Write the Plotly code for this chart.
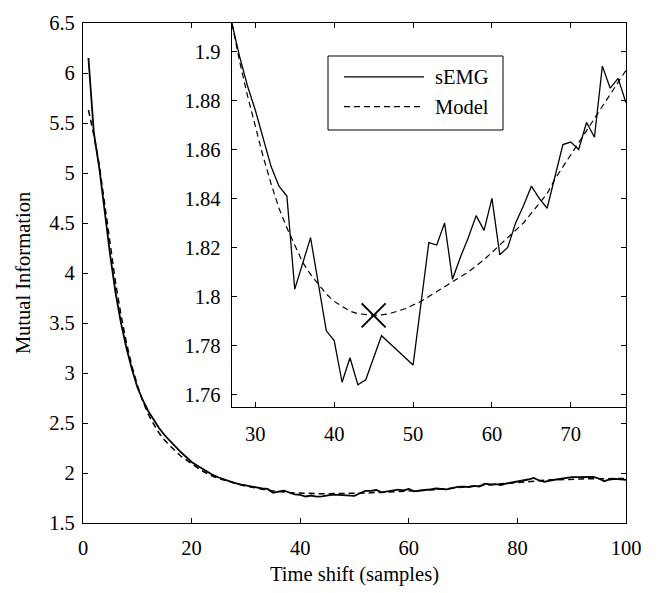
import plotly.graph_objects as go

# ---------------- data ----------------
time_shift = list(range(1, 101))

semg_mi = [
    6.15, 5.40, 5.05, 4.60, 4.18, 3.80, 3.50, 3.25, 3.04, 2.86,
    2.73, 2.62, 2.53, 2.45, 2.38, 2.32, 2.27, 2.21, 2.16, 2.11,
    2.075, 2.04, 2.005, 1.978, 1.955, 1.934, 1.912, 1.898, 1.886, 1.876,
    1.865, 1.853, 1.845, 1.841, 1.803, 1.814, 1.824, 1.805, 1.786, 1.782,
    1.765, 1.775, 1.764, 1.766, 1.775, 1.784, 1.781, 1.778, 1.775, 1.772,
    1.797, 1.822, 1.821, 1.830, 1.807, 1.816, 1.824, 1.833, 1.827, 1.840,
    1.817, 1.820, 1.830, 1.837, 1.845, 1.840, 1.836, 1.849, 1.862, 1.863,
    1.860, 1.871, 1.865, 1.894, 1.885, 1.889, 1.879, 1.895, 1.903, 1.910,
    1.925, 1.935, 1.950, 1.925, 1.912, 1.925, 1.935, 1.942, 1.955, 1.958,
    1.958, 1.960, 1.960, 1.962, 1.945, 1.918, 1.935, 1.942, 1.936, 1.932,
]

model_mi = [
    5.63, 5.38, 5.08, 4.68, 4.27, 3.90, 3.58, 3.30, 3.07, 2.88,
    2.72, 2.59, 2.49, 2.40, 2.33, 2.27, 2.22, 2.17, 2.13, 2.09,
    2.055, 2.02, 1.99, 1.965, 1.945, 1.928, 1.912, 1.896, 1.882, 1.869,
    1.857, 1.846, 1.836, 1.828, 1.821, 1.814, 1.809, 1.805, 1.801, 1.798,
    1.796, 1.794, 1.793, 1.7925, 1.7923, 1.7925, 1.793, 1.794, 1.795, 1.7965,
    1.798, 1.800, 1.802, 1.804, 1.806, 1.808, 1.810, 1.8125, 1.815, 1.818,
    1.821, 1.824, 1.827, 1.830, 1.834, 1.838, 1.842, 1.848, 1.853, 1.858,
    1.863, 1.868, 1.873, 1.878, 1.883, 1.888, 1.893, 1.898, 1.903, 1.908,
    1.913, 1.917, 1.921, 1.924, 1.927, 1.930, 1.933, 1.935, 1.937, 1.939,
    1.940, 1.941, 1.942, 1.943, 1.944, 1.944, 1.945, 1.945, 1.945, 1.945,
]

min_shift = [45]
min_mi = [1.7923]

series_names = ["sEMG", "Model"]

main_xticks = [0, 20, 40, 60, 80, 100]
main_xlabels = ["0", "20", "40", "60", "80", "100"]
main_yticks = [1.5, 2, 2.5, 3, 3.5, 4, 4.5, 5, 5.5, 6, 6.5]
main_ylabels = ["1.5", "2", "2.5", "3", "3.5", "4", "4.5", "5", "5.5", "6", "6.5"]
inset_xticks = [30, 40, 50, 60, 70]
inset_xlabels = ["30", "40", "50", "60", "70"]
inset_yticks = [1.76, 1.78, 1.80, 1.82, 1.84, 1.86, 1.88, 1.90]
inset_ylabels = ["1.76", "1.78", "1.8", "1.82", "1.84", "1.86", "1.88", "1.9"]

# ---------------- figure ----------------
FONT = "Liberation Serif"
FS = 20.5
DASH = "6px,4px"

fig = go.Figure()

# main plot
fig.add_trace(go.Scatter(x=time_shift, y=semg_mi, mode="lines", name=series_names[0],
                         line=dict(color="black", width=1.8),
                         xaxis="x", yaxis="y", showlegend=False))
fig.add_trace(go.Scatter(x=time_shift, y=model_mi, mode="lines", name=series_names[1],
                         line=dict(color="black", width=1.5, dash=DASH),
                         xaxis="x", yaxis="y", showlegend=False))

# inset
fig.add_trace(go.Scatter(x=time_shift, y=semg_mi, mode="lines", name=series_names[0],
                         line=dict(color="black", width=1.3),
                         xaxis="x2", yaxis="y2", showlegend=False))
fig.add_trace(go.Scatter(x=time_shift, y=model_mi, mode="lines", name=series_names[1],
                         line=dict(color="black", width=1.2, dash=DASH),
                         xaxis="x2", yaxis="y2", showlegend=False))
fig.add_trace(go.Scatter(x=min_shift, y=min_mi, mode="markers", name="minimum",
                         marker=dict(symbol="x-thin", size=24,
                                     line=dict(color="black", width=2)),
                         xaxis="x2", yaxis="y2", showlegend=False))

axis_common = dict(
    showgrid=False, zeroline=False, showline=True, linecolor="black",
    linewidth=1.3, mirror="ticks", ticks="inside", ticklen=5,
    tickwidth=1.2, tickcolor="black",
    tickfont=dict(family=FONT, size=FS, color="black"),
)

# legend box drawn in the inset (paper coordinates of the plot area)
LX0, LX1, LY0, LY1 = 0.4512, 0.7735, 0.786, 0.934
LINE_X0, LINE_X1, TEXT_X = 0.4807, 0.6280, 0.6446
ROW_Y = [0.8924, 0.8327]
legend_shapes = [
    dict(type="rect", xref="paper", yref="paper", x0=LX0, x1=LX1, y0=LY0, y1=LY1,
         line=dict(color="black", width=1), fillcolor="white", layer="above"),
    dict(type="line", xref="paper", yref="paper", x0=LINE_X0, x1=LINE_X1,
         y0=ROW_Y[0], y1=ROW_Y[0], line=dict(color="black", width=1.3), layer="above"),
    dict(type="line", xref="paper", yref="paper", x0=LINE_X0, x1=LINE_X1,
         y0=ROW_Y[1], y1=ROW_Y[1], line=dict(color="black", width=1.2, dash=DASH),
         layer="above"),
]
legend_texts = [
    dict(text=name, xref="paper", yref="paper", x=TEXT_X, y=ry, xanchor="left",
         yanchor="middle", showarrow=False,
         font=dict(family=FONT, size=FS, color="black"))
    for name, ry in zip(series_names, ROW_Y)
]

fig.update_layout(
    width=662, height=593,
    margin=dict(l=83, r=36, t=14, b=65),
    paper_bgcolor="white", plot_bgcolor="white",
    font=dict(family=FONT, size=FS, color="black"),
    showlegend=False,
    xaxis=dict(domain=[0, 1], range=[0, 100], tickmode="array",
               tickvals=main_xticks, ticktext=main_xlabels,
               ticklabelstandoff=6,
               title=dict(text="Time shift (samples)",
                          font=dict(family=FONT, size=FS), standoff=8),
               **axis_common),
    yaxis=dict(domain=[0, 1], range=[1.5, 6.5], tickmode="array",
               tickvals=main_yticks, ticktext=main_ylabels,
               ticklabelstandoff=3,
               title=dict(text="Mutual Information",
                          font=dict(family=FONT, size=FS), standoff=12),
               **axis_common),
    xaxis2=dict(domain=[0.2738, 1], range=[27, 77], anchor="y2",
                tickmode="array", tickvals=inset_xticks, ticktext=inset_xlabels,
                ticklabelstandoff=8, **axis_common),
    yaxis2=dict(domain=[0.2315, 1], range=[1.7548, 1.9116], anchor="x2",
                tickmode="array", tickvals=inset_yticks, ticktext=inset_ylabels,
                ticklabelstandoff=6, **axis_common),
    shapes=legend_shapes,
    annotations=legend_texts,
)

fig.write_html("out.html", config={"displayModeBar": False},
               post_script="document.body.style.margin='0';")
